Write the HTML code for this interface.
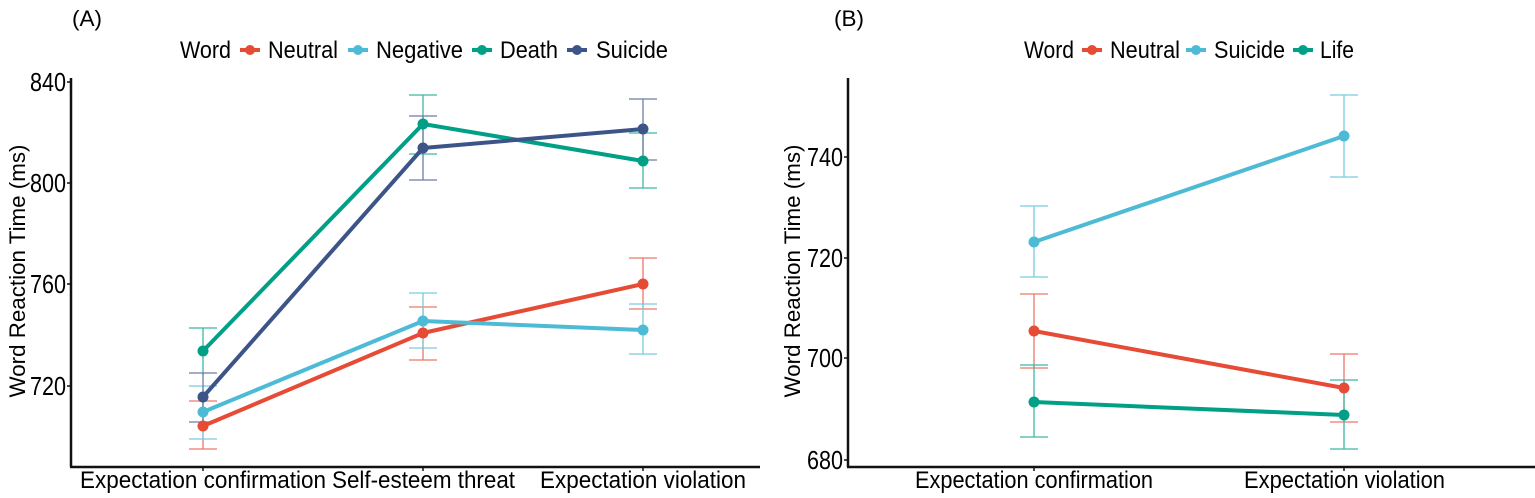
<!DOCTYPE html>
<html><head><meta charset="utf-8"><style>
html,body{margin:0;padding:0;background:#fff;}
svg{display:block;font-family:"Liberation Sans",Arial,sans-serif;}
</style></head><body>
<svg width="1535" height="498" viewBox="0 0 1535 498" xmlns="http://www.w3.org/2000/svg">
<rect width="1535" height="498" fill="#fff"/>
<!-- Panel A -->
<text x="72" y="26" font-size="22" textLength="30" lengthAdjust="spacingAndGlyphs">(A)</text>
<g font-size="24">
<text x="180" y="58" textLength="51" lengthAdjust="spacingAndGlyphs">Word</text>
<line x1="240" y1="50" x2="260" y2="50" stroke="#e64b35" stroke-width="4"/><circle cx="250" cy="50" r="5" fill="#e64b35"/>
<text x="268" y="58" textLength="70" lengthAdjust="spacingAndGlyphs">Neutral</text>
<line x1="348" y1="50" x2="368" y2="50" stroke="#4dbbd5" stroke-width="4"/><circle cx="358" cy="50" r="5" fill="#4dbbd5"/>
<text x="376" y="58" textLength="87" lengthAdjust="spacingAndGlyphs">Negative</text>
<line x1="472" y1="50" x2="492" y2="50" stroke="#00a087" stroke-width="4"/><circle cx="482" cy="50" r="5" fill="#00a087"/>
<text x="500" y="58" textLength="58" lengthAdjust="spacingAndGlyphs">Death</text>
<line x1="567" y1="50" x2="587" y2="50" stroke="#3c5488" stroke-width="4"/><circle cx="577" cy="50" r="5" fill="#3c5488"/>
<text x="596" y="58" textLength="72" lengthAdjust="spacingAndGlyphs">Suicide</text>
</g>
<g stroke="#111" stroke-width="2.5" fill="none">
<line x1="71" y1="78" x2="71" y2="467"/><line x1="70" y1="467" x2="760" y2="467"/>
</g>
<g stroke="#111" stroke-width="1.5">
<line x1="67" y1="82" x2="71" y2="82"/><line x1="67" y1="183" x2="71" y2="183"/><line x1="67" y1="284" x2="71" y2="284"/><line x1="67" y1="386" x2="71" y2="386"/>
<line x1="203" y1="467" x2="203" y2="471"/><line x1="423" y1="467" x2="423" y2="471"/><line x1="643" y1="467" x2="643" y2="471"/>
</g>
<g font-size="26" text-anchor="end">
<text x="66" y="91" textLength="36" lengthAdjust="spacingAndGlyphs">840</text>
<text x="66" y="192" textLength="36" lengthAdjust="spacingAndGlyphs">800</text>
<text x="66" y="293" textLength="36" lengthAdjust="spacingAndGlyphs">760</text>
<text x="66" y="395" textLength="36" lengthAdjust="spacingAndGlyphs">720</text>
</g>
<text transform="translate(25,271) rotate(-90)" font-size="22" text-anchor="middle" textLength="253" lengthAdjust="spacingAndGlyphs">Word Reaction Time (ms)</text>
<g font-size="24">
<text x="80" y="488" textLength="246" lengthAdjust="spacingAndGlyphs">Expectation confirmation</text>
<text x="332" y="488" textLength="183" lengthAdjust="spacingAndGlyphs">Self-esteem threat</text>
<text x="540" y="488" textLength="206" lengthAdjust="spacingAndGlyphs">Expectation violation</text>
</g>
<g stroke-width="1.3" opacity="0.75" fill="none">
<path stroke="#e64b35" d="M203 401V449M189 401H217M189 449H217 M423 307V360M409 307H437M409 360H437 M643 258V309M629 258H657M629 309H657"/>
<path stroke="#4dbbd5" d="M203 386V439M189 386H217M189 439H217 M423 293V348M409 293H437M409 348H437 M643 304V354M629 304H657M629 354H657"/>
<path stroke="#00a087" d="M203 328V375M189 328H217 M423 95V154M409 95H437M409 154H437 M643 133V188M629 133H657M629 188H657"/>
<path stroke="#3c5488" d="M203 373V422M189 373H217M189 422H217 M423 116V180M409 116H437M409 180H437 M643 99V160M629 99H657M629 160H657"/>
</g>
<g stroke-width="4" fill="none" stroke-linejoin="round">
<polyline stroke="#e64b35" points="203,426 423,333 643,284"/>
<polyline stroke="#4dbbd5" points="203,412 423,321 643,330"/>
<polyline stroke="#00a087" points="203,351 423,124 643,161"/>
<polyline stroke="#3c5488" points="203,397 423,148 643,129"/>
</g>
<g>
<circle cx="203" cy="426" r="5.5" fill="#e64b35"/><circle cx="423" cy="333" r="5.5" fill="#e64b35"/><circle cx="643" cy="284" r="5.5" fill="#e64b35"/>
<circle cx="203" cy="412" r="5.5" fill="#4dbbd5"/><circle cx="423" cy="321" r="5.5" fill="#4dbbd5"/><circle cx="643" cy="330" r="5.5" fill="#4dbbd5"/>
<circle cx="203" cy="351" r="5.5" fill="#00a087"/><circle cx="423" cy="124" r="5.5" fill="#00a087"/><circle cx="643" cy="161" r="5.5" fill="#00a087"/>
<circle cx="203" cy="397" r="5.5" fill="#3c5488"/><circle cx="423" cy="148" r="5.5" fill="#3c5488"/><circle cx="643" cy="129" r="5.5" fill="#3c5488"/>
</g>
<!-- Panel B -->
<text x="834" y="26" font-size="22" textLength="30" lengthAdjust="spacingAndGlyphs">(B)</text>
<g font-size="24">
<text x="1024" y="58" textLength="50" lengthAdjust="spacingAndGlyphs">Word</text>
<line x1="1082" y1="50" x2="1102" y2="50" stroke="#e64b35" stroke-width="4"/><circle cx="1092" cy="50" r="5" fill="#e64b35"/>
<text x="1110" y="58" textLength="70" lengthAdjust="spacingAndGlyphs">Neutral</text>
<line x1="1186" y1="50" x2="1206" y2="50" stroke="#4dbbd5" stroke-width="4"/><circle cx="1196" cy="50" r="5" fill="#4dbbd5"/>
<text x="1214" y="58" textLength="71" lengthAdjust="spacingAndGlyphs">Suicide</text>
<line x1="1293" y1="50" x2="1313" y2="50" stroke="#00a087" stroke-width="4"/><circle cx="1303" cy="50" r="5" fill="#00a087"/>
<text x="1320" y="58" textLength="34" lengthAdjust="spacingAndGlyphs">Life</text>
</g>
<g stroke="#111" stroke-width="2.5" fill="none">
<line x1="848" y1="78" x2="848" y2="467"/><line x1="847" y1="467" x2="1535" y2="467"/>
</g>
<g stroke="#111" stroke-width="1.5">
<line x1="844" y1="157" x2="848" y2="157"/><line x1="844" y1="258" x2="848" y2="258"/><line x1="844" y1="358" x2="848" y2="358"/><line x1="844" y1="460" x2="848" y2="460"/>
<line x1="1034" y1="467" x2="1034" y2="471"/><line x1="1344" y1="467" x2="1344" y2="471"/>
</g>
<g font-size="26" text-anchor="end">
<text x="843" y="166" textLength="36" lengthAdjust="spacingAndGlyphs">740</text>
<text x="843" y="267" textLength="36" lengthAdjust="spacingAndGlyphs">720</text>
<text x="843" y="367" textLength="36" lengthAdjust="spacingAndGlyphs">700</text>
<text x="843" y="469" textLength="36" lengthAdjust="spacingAndGlyphs">680</text>
</g>
<text transform="translate(800,271) rotate(-90)" font-size="22" text-anchor="middle" textLength="253" lengthAdjust="spacingAndGlyphs">Word Reaction Time (ms)</text>
<g font-size="24">
<text x="915" y="488" textLength="238" lengthAdjust="spacingAndGlyphs">Expectation confirmation</text>
<text x="1244" y="488" textLength="201" lengthAdjust="spacingAndGlyphs">Expectation violation</text>
</g>
<g stroke-width="1.3" opacity="0.75" fill="none">
<path stroke="#4dbbd5" d="M1034 206V277M1020 206H1048M1020 277H1048 M1344 95V177M1330 95H1358M1330 177H1358"/>
<path stroke="#e64b35" d="M1034 294V368M1020 294H1048M1020 368H1048 M1344 354V422M1330 354H1358M1330 422H1358"/>
<path stroke="#00a087" d="M1034 365V437M1020 365H1048M1020 437H1048 M1344 380V449M1330 380H1358M1330 449H1358"/>
</g>
<g stroke-width="4" fill="none">
<polyline stroke="#4dbbd5" points="1034,242 1344,136"/>
<polyline stroke="#e64b35" points="1034,331 1344,388"/>
<polyline stroke="#00a087" points="1034,402 1344,415"/>
</g>
<g>
<circle cx="1034" cy="242" r="5.5" fill="#4dbbd5"/><circle cx="1344" cy="136" r="5.5" fill="#4dbbd5"/>
<circle cx="1034" cy="331" r="5.5" fill="#e64b35"/><circle cx="1344" cy="388" r="5.5" fill="#e64b35"/>
<circle cx="1034" cy="402" r="5.5" fill="#00a087"/><circle cx="1344" cy="415" r="5.5" fill="#00a087"/>
</g>
</svg>
</body></html>
